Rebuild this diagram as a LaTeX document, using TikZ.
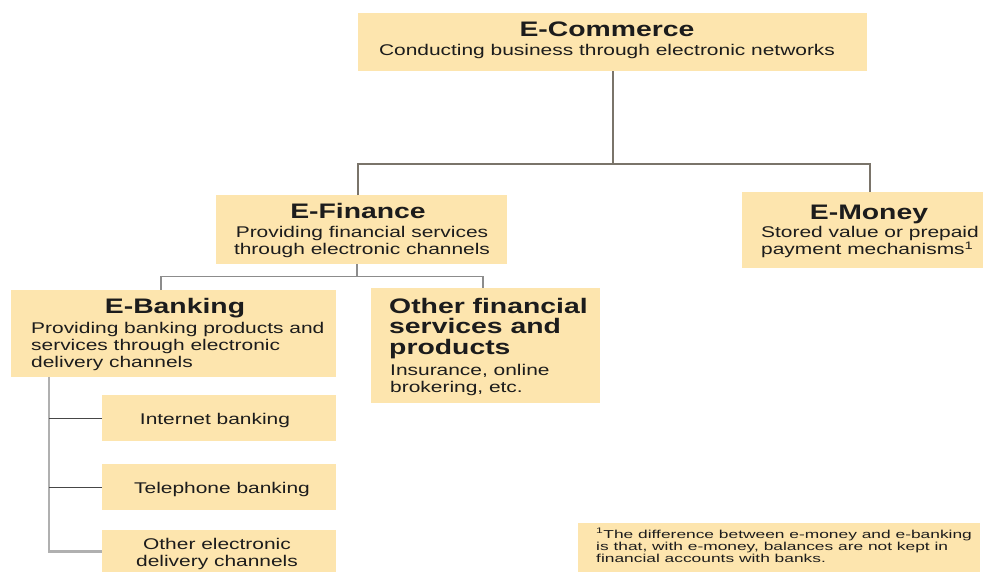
\documentclass[tikz,border=0pt]{standalone}
\usepackage{fontspec}
\setmainfont{Liberation Sans}[FakeStretch=1.35]
\newfontfamily\notefamily{Liberation Sans}[FakeStretch=1.51]
\usepackage{tikz}

\definecolor{boxfill}{RGB}{253,229,174}
\definecolor{ink}{RGB}{28,28,28}
\definecolor{linkgray}{RGB}{122,116,106}
\definecolor{twiggray}{RGB}{140,140,140}
\definecolor{railgray}{RGB}{176,176,176}
\definecolor{tickgray}{RGB}{70,70,70}

\newcommand\stack[2][l]{\begin{tabular}[t]{@{}#1@{}}#2\end{tabular}}

\tikzset{
    box/.style={fill=boxfill, inner sep=0pt, anchor=north west},
    head/.style={inner sep=0pt, text=ink, font=\fontsize{21}{19}\selectfont\bfseries},
    body/.style={inner sep=0pt, text=ink, font=\fontsize{15.5}{17}\selectfont},
    note/.style={inner sep=0pt, text=ink, font=\notefamily\fontsize{11.5}{12.3}\selectfont},
    link/.style={draw=linkgray, line width=1.8pt},
    twig/.style={draw=twiggray, line width=1.6pt},
    rail/.style={draw=railgray, line width=2.6pt},
    tick/.style={draw=tickgray, line width=1pt}
}

\begin{document}
\begin{tikzpicture}[x=1pt, y=-1pt]
    % Page frame
    \useasboundingbox (0,0) rectangle (984,572);

    % Boxes
    \node[box, minimum width=509pt, minimum height=58pt] (ecom) at (358,13) {};
    \node[box, minimum width=291pt, minimum height=69pt] (efin) at (216,195) {};
    \node[box, minimum width=241pt, minimum height=76pt] (emon) at (742,192) {};
    \node[box, minimum width=325pt, minimum height=87pt] (ebank) at (11,290) {};
    \node[box, minimum width=229pt, minimum height=115pt] (other) at (371,288) {};
    \node[box, minimum width=402pt, minimum height=49pt] (note) at (578,523) {};

    \foreach \name/\top/\h in {inet/395/46, tel/464/46, ochan/530/42} {
        \node[box, minimum width=234pt, minimum height=\h pt] (\name) at (102,\top) {};
    }

    % Texts
    \node[head, anchor=base] (ecomhead) at (607,37) {E-Commerce};
    \node[body, anchor=base] (ecomtext) at (607,56) {Conducting business through electronic networks};
    \node[head, anchor=base] (efinhead) at (358,218) {E-Finance};
    \node[body, anchor=base] (efintext) at (362,237) {\stack[c]{Providing financial services\\through electronic channels}};
    \node[head, anchor=base] (emonhead) at (869,219) {E-Money};
    \node[body, anchor=base west] (emontext) at (761,237) {\stack{Stored value or prepaid\\payment mechanisms\textsuperscript{1}}};
    \node[head, anchor=base] (ebankhead) at (175,313) {E-Banking};
    \node[body, anchor=base west] (ebanktext) at (31,333) {\stack{Providing banking products and\\services through electronic\\delivery channels}};
    \node[head, anchor=base west] (otherhead) at (389,313) {\stack{Other financial\\services and\\products}};
    \node[body, anchor=base west] (othertext) at (390,375) {\stack{Insurance, online\\brokering, etc.}};
    \node[body, anchor=base] (inettext) at (215,424) {Internet banking};
    \node[body, anchor=base] (teltext) at (222,493) {Telephone banking};
    \node[body, anchor=base] (ochantext) at (217,549) {\stack[c]{Other electronic\\delivery channels}};
    \node[note, anchor=base west] (notetext) at (596,538) {\stack{\textsuperscript{1}The difference between e-money and e-banking\\is that, with e-money, balances are not kept in\\financial accounts with banks.}};

    % Links
    \draw[link] (ecom.south) -- ++(0,93) coordinate (split);
    \draw[link] ([xshift=-4pt]efin.north) |- (split) -| ([xshift=7pt]emon.north);
    \draw[twig] ([xshift=-5pt]efin.south) -- ++(0,12) coordinate (split2);
    \draw[twig] ([xshift=-13pt]ebank.north) |- (split2) -| ([xshift=-3pt]other.north);

    % Channel rail
    \coordinate (railtop) at ([xshift=38pt]ebank.south west);
    \draw[rail] (railtop) |- (ochan.west);
    \foreach \name in {inet, tel} {
        \draw[tick] (\name.west) -- (\name.west -| railtop);
    }

\end{tikzpicture}
\end{document}
